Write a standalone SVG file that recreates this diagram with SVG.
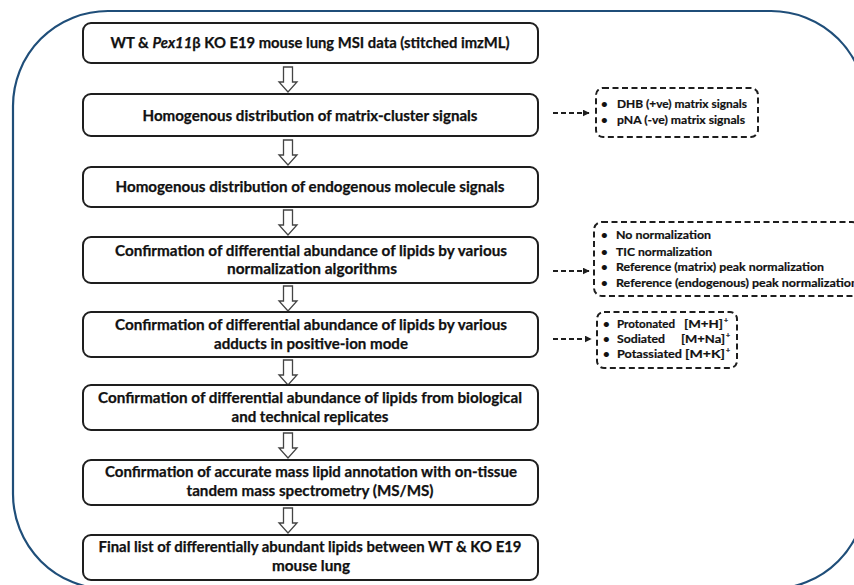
<svg xmlns="http://www.w3.org/2000/svg" width="854" height="585" viewBox="0 0 854 585">
<defs>
<style>
.frame{fill:none;stroke:#1F4E79;stroke-width:2.2}
.box{fill:#fff;stroke:#1e1e1e;stroke-width:2}
.dbox{fill:#fff;stroke:#1e1e1e;stroke-width:2;stroke-dasharray:6 3.5}
.t{font-family:Lato,"Liberation Sans",sans-serif;font-weight:bold;font-size:14.5px;fill:#111;stroke:#111;stroke-width:0.25;text-anchor:middle}
.s{font-family:Lato,"Liberation Sans",sans-serif;font-weight:bold;font-size:11.5px;fill:#111;stroke:#111;stroke-width:0.2}
.sup{font-size:7px}
.blk{fill:#fff;stroke:#444;stroke-width:1.3}
.dash{fill:none;stroke:#1e1e1e;stroke-width:2;stroke-dasharray:5 3}
</style>
<marker id="ah" viewBox="0 0 10 10" refX="9" refY="5" markerWidth="7" markerHeight="7" markerUnits="userSpaceOnUse" orient="auto"><path d="M0,0 L10,5 L0,10 z" fill="#1e1e1e"/></marker>
<path id="blockArrow" d="M-4.5,0 H4.5 V15 H9 L0,25 L-9,15 H-4.5 Z"/>
</defs>
<rect class="frame" x="13" y="11" width="853" height="578" rx="95" ry="95"/>

<g id="connectors">
<use href="#blockArrow" class="blk" x="288" y="67"/>
<use href="#blockArrow" class="blk" x="288" y="140"/>
<use href="#blockArrow" class="blk" x="288" y="210"/>
<use href="#blockArrow" class="blk" x="288" y="286"/>
<use href="#blockArrow" class="blk" x="288" y="360"/>
<use href="#blockArrow" class="blk" x="288" y="433"/>
<use href="#blockArrow" class="blk" x="288" y="508"/>
<line class="dash" x1="553" y1="113" x2="589" y2="113" marker-end="url(#ah)"/>
<line class="dash" x1="553" y1="271" x2="589" y2="271" marker-end="url(#ah)"/>
<line class="dash" x1="553" y1="339" x2="591" y2="339" marker-end="url(#ah)"/>
</g>

<g id="n1">
<rect class="box" x="83" y="23" width="455" height="40" rx="8"/>
<text class="t" x="310" y="48" textLength="399" lengthAdjust="spacingAndGlyphs">WT &amp; <tspan font-style="italic">Pex11</tspan>β KO E19 mouse lung MSI  data (stitched imzML)</text>
</g>
<g id="n2">
<rect class="box" x="83" y="94" width="455" height="42" rx="8"/>
<text class="t" x="310" y="121" textLength="335" lengthAdjust="spacingAndGlyphs">Homogenous distribution of matrix-cluster signals</text>
</g>
<g id="n3">
<rect class="box" x="83" y="167" width="455" height="40" rx="8"/>
<text class="t" x="310" y="192" textLength="389" lengthAdjust="spacingAndGlyphs">Homogenous distribution of endogenous molecule signals</text>
</g>
<g id="n4">
<rect class="box" x="83" y="237" width="455" height="46" rx="8"/>
<text class="t" x="311" y="256" textLength="392" lengthAdjust="spacingAndGlyphs">Confirmation of differential abundance of lipids by various</text>
<text class="t" x="312" y="274" textLength="170" lengthAdjust="spacingAndGlyphs">normalization algorithms</text>
</g>
<g id="n5">
<rect class="box" x="83" y="312" width="455" height="45" rx="8"/>
<text class="t" x="311" y="330" textLength="392" lengthAdjust="spacingAndGlyphs">Confirmation of differential abundance of lipids by various</text>
<text class="t" x="311" y="349" textLength="194" lengthAdjust="spacingAndGlyphs">adducts in positive-ion mode</text>
</g>
<g id="n6">
<rect class="box" x="83" y="385" width="455" height="45" rx="8"/>
<text class="t" x="310" y="403" textLength="424" lengthAdjust="spacingAndGlyphs">Confirmation of differential abundance of lipids from biological</text>
<text class="t" x="310" y="422" textLength="157" lengthAdjust="spacingAndGlyphs">and technical replicates</text>
</g>
<g id="n7">
<rect class="box" x="83" y="460" width="455" height="45" rx="8"/>
<text class="t" x="311" y="477" textLength="412" lengthAdjust="spacingAndGlyphs">Confirmation of accurate mass lipid annotation with on-tissue</text>
<text class="t" x="310" y="496" textLength="247" lengthAdjust="spacingAndGlyphs">tandem mass spectrometry (MS/MS)</text>
</g>
<g id="n8">
<rect class="box" x="83" y="535" width="455" height="45" rx="8"/>
<text class="t" x="310" y="552" textLength="423" lengthAdjust="spacingAndGlyphs">Final list of differentially abundant lipids between WT &amp; KO E19</text>
<text class="t" x="311" y="571" textLength="78" lengthAdjust="spacingAndGlyphs">mouse lung</text>
</g>

<g id="sideA">
<rect class="dbox" x="596" y="88" width="162" height="49" rx="7"/>
<text class="s" x="601" y="108">•</text>
<text class="s" x="617" y="108" textLength="130" lengthAdjust="spacingAndGlyphs">DHB (+ve) matrix signals</text>
<text class="s" x="601" y="124">•</text>
<text class="s" x="617" y="124" textLength="128" lengthAdjust="spacingAndGlyphs">pNA (-ve) matrix signals</text>
</g>
<g id="sideB">
<rect class="dbox" x="594" y="222" width="266" height="74" rx="8"/>
<text class="s" x="601" y="239">•</text>
<text class="s" x="616" y="239" textLength="95" lengthAdjust="spacingAndGlyphs">No normalization</text>
<text class="s" x="601" y="256">•</text>
<text class="s" x="616" y="256" textLength="96" lengthAdjust="spacingAndGlyphs">TIC normalization</text>
<text class="s" x="601" y="271">•</text>
<text class="s" x="616" y="271" textLength="208" lengthAdjust="spacingAndGlyphs">Reference (matrix) peak normalization</text>
<text class="s" x="601" y="287">•</text>
<text class="s" x="616" y="287" textLength="242" lengthAdjust="spacingAndGlyphs">Reference (endogenous) peak normalization</text>
</g>
<g id="sideC">
<rect class="dbox" x="597" y="312" width="140" height="56" rx="7"/>
<text class="s" x="603" y="328">•</text>
<text class="s" x="617" y="328" textLength="58" lengthAdjust="spacingAndGlyphs">Protonated</text>
<text class="s" x="684" y="328" textLength="39" lengthAdjust="spacingAndGlyphs">[M+H]</text>
<text class="s sup" x="724" y="323">+</text>
<text class="s" x="603" y="343">•</text>
<text class="s" x="617" y="343" textLength="48" lengthAdjust="spacingAndGlyphs">Sodiated</text>
<text class="s" x="681" y="343" textLength="44" lengthAdjust="spacingAndGlyphs">[M+Na]</text>
<text class="s sup" x="726" y="338">+</text>
<text class="s" x="603" y="358">•</text>
<text class="s" x="617" y="358" textLength="65" lengthAdjust="spacingAndGlyphs">Potassiated</text>
<text class="s" x="685" y="358" textLength="40" lengthAdjust="spacingAndGlyphs">[M+K]</text>
<text class="s sup" x="726" y="353">+</text>
</g>
</svg>
